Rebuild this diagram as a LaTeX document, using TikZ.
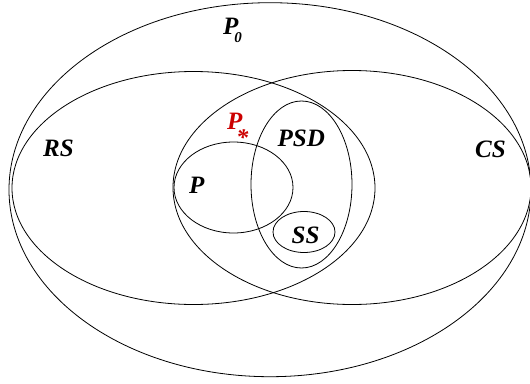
\documentclass[tikz,border=0pt]{standalone}
\usepackage{fontspec}
\setmainfont{Liberation Serif}
\definecolor{pred}{RGB}{204,0,0}
\begin{document}
\begin{tikzpicture}[x=1pt,y=-1pt,
  setline/.style={draw=black, line width=0.8pt},
  lbl/.style={anchor=base west, inner sep=0pt, font=\fontsize{25}{30}\selectfont\bfseries\itshape}]
\useasboundingbox (0,0) rectangle (530,383);
% sets
\draw[setline] (270,189.7) ellipse [x radius=261, y radius=187];
\draw[setline] (193.5,188) ellipse [x radius=181.5, y radius=116.5];
\draw[setline] (352,187.5) ellipse [x radius=179, y radius=117];
\draw[setline] (233.5,187.5) ellipse [x radius=59.5, y radius=45.5];
\draw[setline] (301.5,184.5) ellipse [x radius=50.5, y radius=83.5];
\draw[setline] (304,232) ellipse [x radius=31, y radius=20.5];
% labels
\node[lbl] (p0) at (223,34) {P\kern-4pt\raisebox{-8pt}{\fontsize{15}{15}\selectfont 0}};
\node[lbl, text=pred] (pstar) at (227,129) {P\kern-6pt\raisebox{-16pt}{\fontsize{24}{24}\selectfont *}};
\node[lbl] (rs) at (43,156.5) {RS};
\node[lbl] (psd) at (277.5,146) {PSD};
\node[lbl] (cs) at (475,157) {CS};
\node[lbl] (p) at (189,193) {P};
\node[lbl] (ss) at (291.5,243) {SS};
\end{tikzpicture}
\end{document}
